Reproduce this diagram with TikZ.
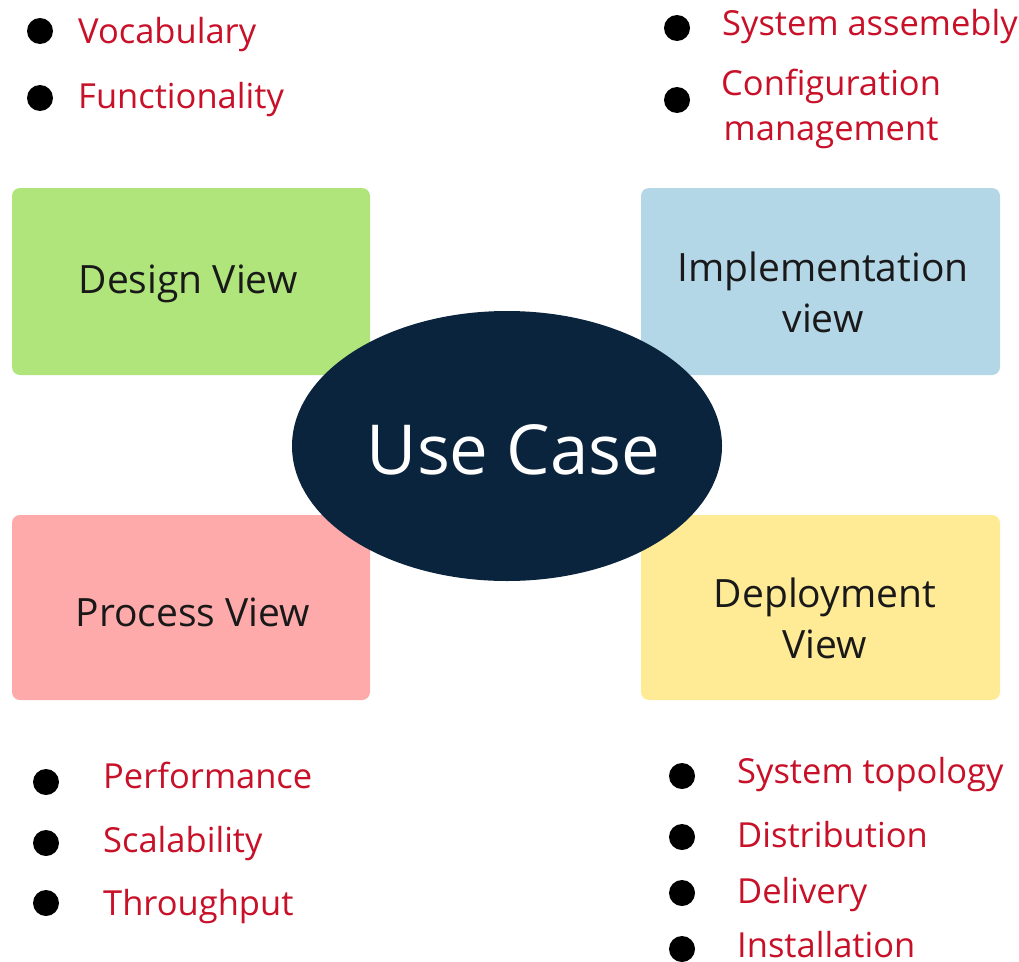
\documentclass[tikz,border=0pt]{standalone}
\usepackage{fontspec}
\setmainfont{Open Sans}
\usetikzlibrary{shapes.geometric}
\definecolor{designgreen}{RGB}{176,229,124}
\definecolor{implblue}{RGB}{180,215,232}
\definecolor{procpink}{RGB}{255,170,170}
\definecolor{deplyellow}{RGB}{255,235,150}
\definecolor{usecasenavy}{RGB}{11,36,62}
\definecolor{itemred}{RGB}{200,16,40}
\tikzset{
	viewbox/.style={rounded corners=8pt, minimum width=358pt, minimum height=187pt, inner sep=0pt},
	viewtext/.style={inner sep=0pt, text=black!90, align=center, font=\fontsize{39}{51}\selectfont},
	itemtext/.style={anchor=base west, inner sep=0pt, text=itemred, font=\fontsize{34.5}{45}\selectfont},
}
\begin{document}
\begin{tikzpicture}[x=1pt, y=-1pt, line join=round, line cap=round]
	\def\r{13} % bullet radius
	\useasboundingbox (0,0) rectangle (1019,961);
	% the four views
	\node[viewbox, fill=designgreen] (design) at (191,281.5) {};
	\node[viewbox, fill=implblue, minimum width=359pt] (impl) at (820.5,281.5) {};
	\node[viewbox, fill=procpink, minimum height=185pt] (process) at (191,607.5) {};
	\node[viewbox, fill=deplyellow, minimum width=359pt, minimum height=185pt] (deploy) at (820.5,607.5) {};
	\node[viewtext, anchor=base] (designtxt) at (188,293) {Design View};
	\node[viewtext] (impltxt) at (823,292) {Implementation\\view};
	\node[viewtext] (processtxt) at (193,612) {Process View};
	\node[viewtext] (deploytxt) at (825,618) {Deployment\\View};
	% centre
	\node[ellipse, fill=usecasenavy, minimum width=430pt, minimum height=270pt, inner sep=0pt] (usecase) at (507,446) {};
	\node[inner sep=0pt, text=white, font=\fontsize{69}{80}\selectfont, anchor=base] (usecasetxt) at (513.5,474) {Use Case};
	% bullets
	\fill (40,31) circle (\r) (40,98) circle (\r)
	(677,28) circle (\r) (677,100) circle (\r)
	(46,782) circle (\r) (46,843) circle (\r) (46,903) circle (\r)
	(682,776) circle (\r) (682,837) circle (\r) (682,893) circle (\r) (682,949) circle (\r);
	\node[itemtext] (vocab) at (78,43) {Vocabulary};
	\node[itemtext] (func) at (78,108) {Functionality};
	\node[itemtext] (assembly) at (722,35) {System assemebly};
	\node[itemtext, align=center, anchor=north west] (config) at (721,69) {Configuration\\management};
	\node[itemtext] (perf) at (103,788) {Performance};
	\node[itemtext] (scal) at (103,852) {Scalability};
	\node[itemtext] (through) at (103,915) {Throughput};
	\node[itemtext] (topo) at (737,783) {System topology};
	\node[itemtext] (distr) at (737,847) {Distribution};
	\node[itemtext] (deliv) at (737,903) {Delivery};
	\node[itemtext] (install) at (737,957) {Installation};
\end{tikzpicture}
\end{document}
